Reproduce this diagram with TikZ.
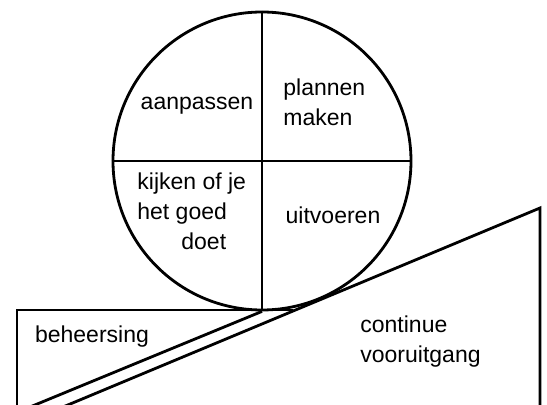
\documentclass[tikz,border=0pt]{standalone}
\usepackage{fontspec}
\setmainfont{Liberation Sans}
\tikzset{
  font=\fontsize{11.5}{15}\selectfont,
  line/.style={draw, line width=1.4pt},
  label/.style={align=left, inner sep=0pt},
}
\begin{document}
\begin{tikzpicture}[x=0.5pt,y=-0.5pt]
  \useasboundingbox (0,0) rectangle (547,405);
  \clip (0,0) rectangle (547,405);

  % the wheel with its four quarters
  \node[line, circle, minimum size=149pt, inner sep=0pt] (wheel) at (262,161) {};
  \draw[line] (wheel.north) -- (wheel.south);
  \draw[line] (wheel.west) -- (wheel.east);

  \node[label] (aanp) at (197,106) {aanpassen};
  \node[label, anchor=west] (plan) at (283,102) {plannen\\maken};
  \node[label, anchor=north west] (kijk) at (137,172) {kijken of je\\het goed\\\hspace*{22pt}doet};
  \node[label] (uitv) at (333,215) {uitvoeren};

  % slope and the block under the wheel
  \coordinate (rampTop)  at (540,208);
  \coordinate (rampFoot) at (63,407);
  \coordinate (rampEnd)  at (540,407);
  \coordinate (stopFoot) at (30,407);
  \coordinate (boxFoot)  at (17,407);
  \coordinate (boxTop)   at (17,310);
  \coordinate (boxEnd)   at (293,310);

  \draw[line] (rampFoot) -- (rampTop) -- (rampEnd);
  \draw[line] (boxFoot) -- (boxTop) -- (boxEnd);
  \draw[line] (stopFoot) -- (wheel.south);

  \node[label] (beh) at (92,337) {beheersing};
  \node[label, anchor=west] (cont) at (360,342) {continue\\vooruitgang};
\end{tikzpicture}
\end{document}
